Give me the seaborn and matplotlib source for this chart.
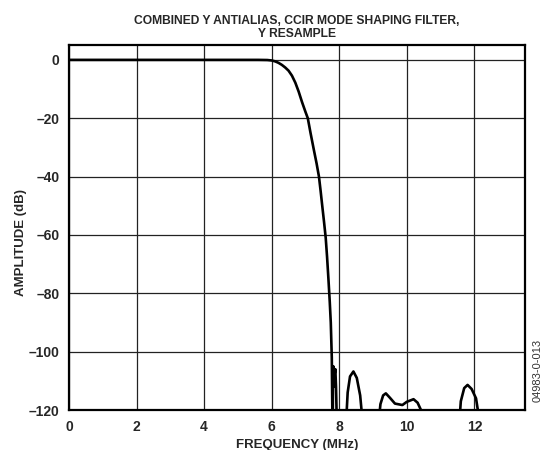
#!/usr/bin/env python3
"""Combined Y antialias / CCIR mode shaping filter response, redrawn with seaborn."""

import matplotlib
matplotlib.use("Agg")
import matplotlib.pyplot as plt
import pandas as pd
import seaborn as sns

# --- Data ---
FREQ_MHZ = [
    0.0, 1.0, 2.0, 3.0, 4.0, 5.0, 5.6, 5.87, 6.0, 6.1, 6.2, 6.3, 6.4, 6.5,
    6.6, 6.7, 6.8, 6.9, 7.0, 7.07, 7.15, 7.25, 7.33, 7.40, 7.45, 7.50, 7.55,
    7.60, 7.64, 7.68, 7.72, 7.75, 7.78, 7.80,
    # spikes right after the stopband edge
    7.81, 7.815, 7.825, 7.84, 7.86, 7.885, 7.905, 7.93,
    # second lobe
    8.20, 8.25, 8.32, 8.42, 8.52, 8.62, 8.70,
    # double-humped lobe
    9.16, 9.22, 9.30, 9.38, 9.50, 9.65, 9.87, 10.0, 10.2, 10.32, 10.42, 10.46,
    # last lobe
    11.55, 11.60, 11.70, 11.80, 11.92, 12.05, 12.17,
]
AMPLITUDE_DB = [
    0.0, 0.0, 0.0, 0.0, 0.0, 0.0, 0.0, -0.05, -0.2, -0.5, -1.0, -1.7, -2.6, -3.7,
    -5.4, -7.8, -10.9, -14.5, -17.8, -20.0, -25.0, -30.9, -35.5, -40.0, -45.0, -50.3, -55.5,
    -61.0, -67.5, -75.0, -83.0, -90.0, -102.0, -125.0,
    -125.0, -106.0, -105.0, -112.0, -108.0, -106.0, -112.0, -125.0,
    -125.0, -114.0, -108.5, -106.8, -109.0, -115.0, -125.0,
    -125.0, -118.0, -115.0, -114.3, -115.8, -117.8, -118.3, -117.2, -116.3, -117.5, -120.0, -125.0,
    -125.0, -117.0, -112.5, -111.4, -112.8, -116.0, -125.0,
]
X_TICKS = [0, 2, 4, 6, 8, 10, 12]
Y_TICKS = [0, -20, -40, -60, -80, -100, -120]

TITLE = "COMBINED Y ANTIALIAS, CCIR MODE SHAPING FILTER,\nY RESAMPLE"
FIG_ID = "04983-0-013"


def main():
    sns.set_style("white")
    plt.rcParams["font.family"] = ["Liberation Sans", "DejaVu Sans"]

    df = pd.DataFrame({"freq": FREQ_MHZ, "amp": AMPLITUDE_DB})

    fig = plt.figure(figsize=(5.47, 4.5), dpi=100)
    ax = fig.add_axes([69 / 547, 1 - 410 / 450, (525 - 69) / 547, (410 - 45) / 450])

    sns.lineplot(data=df, x="freq", y="amp", sort=False, estimator=None,
                 color="black", linewidth=1.9, ax=ax, zorder=3)

    ax.set_xlim(0, 13.5)
    ax.set_ylim(-120, 5.1)
    ax.set_xticks(X_TICKS)
    ax.set_yticks(Y_TICKS)
    ax.set_xticklabels([str(t) for t in X_TICKS])
    ax.set_yticklabels([str(t).replace("-", "\u2013") for t in Y_TICKS])
    ax.grid(True, color="#222222", linewidth=0.9)
    ax.tick_params(length=0, labelsize=10, pad=7)
    for lbl in ax.get_xticklabels() + ax.get_yticklabels():
        lbl.set_fontweight("bold")
    for spine in ax.spines.values():
        spine.set_color("black")
        spine.set_linewidth(1.6)

    ax.set_xlabel("FREQUENCY (MHz)", fontsize=9.5, fontweight="bold", labelpad=4)
    ax.set_ylabel("AMPLITUDE (dB)", fontsize=9.5, fontweight="bold")
    ax.yaxis.set_label_coords(-0.092, 0.46)

    fig.text(297 / 547, 1 - 27.5 / 450, TITLE, ha="center", va="center",
             fontsize=8.7, fontweight="bold", linespacing=1.1)
    fig.text(538 / 547, 1 - 370 / 450, FIG_ID, rotation=90, ha="center",
             va="center", fontsize=8, color="#333333")

    fig.savefig("out.png", dpi=100)
    plt.close(fig)


if __name__ == "__main__":
    main()
